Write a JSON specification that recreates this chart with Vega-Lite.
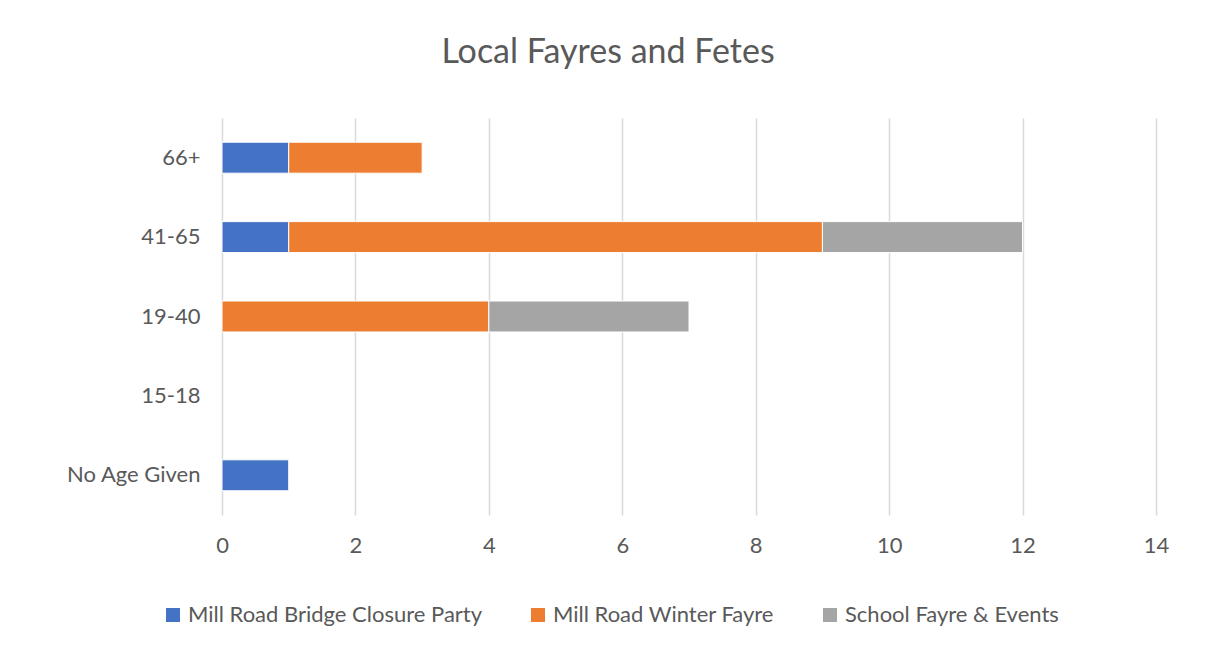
{
  "$schema": "https://vega.github.io/schema/vega-lite/v6.json",
  "autosize": "none",
  "width": 934,
  "height": 397,
  "padding": {"left": 222, "top": 118, "right": 49, "bottom": 134},
  "background": "white",
  "title": {
    "text": "Local Fayres and Fetes",
    "font": "Lato",
    "fontSize": 34,
    "fontWeight": "normal",
    "color": "#595959",
    "offset": 48,
    "dx": -81,
    "anchor": "middle"
  },
  "data": {
    "values": [
      {"age": "66+", "event": "Mill Road Bridge Closure Party", "count": 1, "o": 1},
      {"age": "66+", "event": "Mill Road Winter Fayre", "count": 2, "o": 2},
      {"age": "41-65", "event": "Mill Road Bridge Closure Party", "count": 1, "o": 1},
      {"age": "41-65", "event": "Mill Road Winter Fayre", "count": 8, "o": 2},
      {"age": "41-65", "event": "School Fayre & Events", "count": 3, "o": 3},
      {"age": "19-40", "event": "Mill Road Winter Fayre", "count": 4, "o": 2},
      {"age": "19-40", "event": "School Fayre & Events", "count": 3, "o": 3},
      {"age": "No Age Given", "event": "Mill Road Bridge Closure Party", "count": 1, "o": 1}
    ]
  },
  "mark": {"type": "bar", "stroke": "white", "strokeWidth": 1},
  "encoding": {
    "y": {
      "field": "age",
      "type": "nominal",
      "scale": {"domain": ["66+", "41-65", "19-40", "15-18", "No Age Given"], "paddingInner": 0.61, "paddingOuter": 0.305},
      "axis": {"title": null, "ticks": false, "domain": false, "labelPadding": 22, "labelFontSize": 22, "labelFont": "Lato", "labelColor": "#595959"}
    },
    "x": {
      "field": "count",
      "type": "quantitative",
      "stack": "zero",
      "scale": {"domain": [0, 14]},
      "axis": {"title": null, "values": [0, 2, 4, 6, 8, 10, 12, 14], "ticks": false, "domain": false, "grid": true, "gridColor": "#d9d9d9", "gridWidth": 1.5, "labelFlush": false, "labelPadding": 20, "labelFontSize": 22, "labelFont": "Lato", "labelColor": "#595959"}
    },
    "color": {
      "field": "event",
      "type": "nominal",
      "scale": {"domain": ["Mill Road Bridge Closure Party", "Mill Road Winter Fayre", "School Fayre & Events"], "range": ["#4472C4", "#ED7D31", "#A5A5A5"]},
      "legend": {
        "title": null,
        "orient": "none",
        "direction": "horizontal",
        "legendX": -60,
        "legendY": 486,
        "symbolType": "square",
        "symbolSize": 196,
        "symbolStrokeWidth": 0,
        "labelFontSize": 22,
        "labelFont": "Lato",
        "labelColor": "#595959",
        "labelOffset": 4,
        "labelLimit": 500,
        "columnPadding": 44
      }
    },
    "order": {"field": "o", "type": "quantitative"}
  },
  "config": {"view": {"stroke": null}}
}
